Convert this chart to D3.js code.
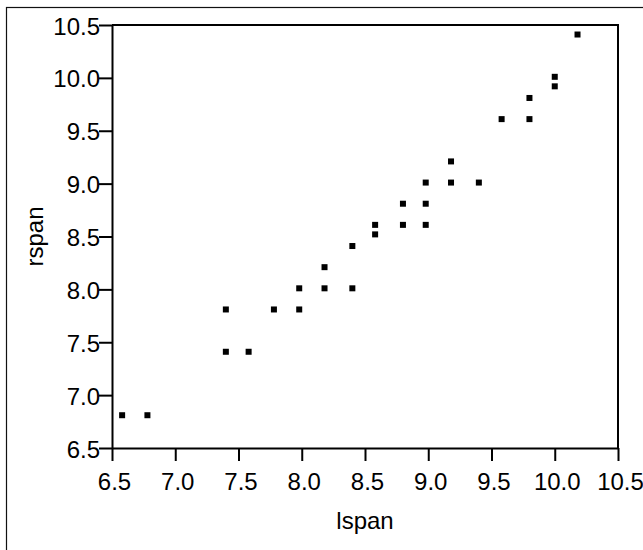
<!DOCTYPE html>
<html>
<head>
<meta charset="utf-8">
<script src="https://cdn.jsdelivr.net/npm/d3@7.9.0/dist/d3.min.js"></script>
<style>
  html, body { margin: 0; padding: 0; background: #fff; overflow: hidden; }
  svg { display: block; font-family: "Liberation Sans", Arial, sans-serif; }
</style>
</head>
<body>
<svg id="chart" width="643" height="550"></svg>
<script>
const lspan = [6.58, 6.78, 7.40, 7.40, 7.58, 7.78, 7.98, 7.98, 8.18, 8.18, 8.40, 8.40, 8.58, 8.58,
  8.80, 8.98, 8.80, 8.98, 8.98, 9.18, 9.40, 9.18, 9.58, 9.80, 9.80, 10.00, 10.00, 10.18];
const rspan = [6.81, 6.81, 7.81, 7.41, 7.41, 7.81, 7.81, 8.01, 8.01, 8.21, 8.01, 8.41, 8.52, 8.61,
  8.61, 8.61, 8.81, 8.81, 9.01, 9.01, 9.01, 9.21, 9.61, 9.61, 9.81, 9.92, 10.01, 10.41];
const xTicks = [6.5, 7.0, 7.5, 8.0, 8.5, 9.0, 9.5, 10.0, 10.5];
const yTicks = [6.5, 7.0, 7.5, 8.0, 8.5, 9.0, 9.5, 10.0, 10.5];

const svg = d3.select("#chart");
const area = { left: 112, right: 618, top: 25, bottom: 448 };

// outer frame, runs off the right and bottom edges
svg.append("rect")
  .attr("x", 6.5).attr("y", 7.5)
  .attr("width", 700).attr("height", 600)
  .attr("fill", "none").attr("stroke", "#111").attr("stroke-width", 1.2);

const x = d3.scaleLinear().domain([6.5, 10.5]).range([area.left, area.right]);
const y = d3.scaleLinear().domain([6.5, 10.5]).range([area.bottom, area.top]);

const xAxis = svg.append("g")
  .attr("transform", `translate(0,${area.bottom})`)
  .call(d3.axisBottom(x).tickValues(xTicks).tickFormat(d3.format(".1f"))
    .tickSize(13).tickSizeOuter(0).tickPadding(5));

const yAxis = svg.append("g")
  .attr("transform", `translate(${area.left},0)`)
  .call(d3.axisLeft(y).tickValues(yTicks).tickFormat(d3.format(".1f"))
    .tickSize(13).tickSizeOuter(0).tickPadding(0));

[xAxis, yAxis].forEach(g => {
  g.select(".domain").attr("stroke", "#000").attr("stroke-width", 2);
  g.selectAll(".tick line").attr("stroke", "#000").attr("stroke-width", 2);
  g.selectAll(".tick text").attr("fill", "#000").attr("font-size", 24)
    .attr("font-family", "Liberation Sans, Arial, sans-serif");
});
xAxis.selectAll(".tick text").attr("dy", null).attr("y", 42).attr("dx", 2);
yAxis.selectAll(".tick text").attr("dy", null).attr("y", 9).attr("x", -12);

// top and right edges of the plot box
svg.append("path")
  .attr("d", `M${area.left},${area.top}H${area.right}V${area.bottom}`)
  .attr("fill", "none").attr("stroke", "#000").attr("stroke-width", 2);

svg.append("g").selectAll("rect")
  .data(lspan.map((d, i) => [d, rspan[i]]))
  .join("rect")
  .attr("x", d => x(d[0]) - 3)
  .attr("y", d => y(d[1]) - 3)
  .attr("width", 6).attr("height", 6)
  .attr("fill", "#000");

svg.append("text")
  .attr("x", (area.left + area.right) / 2)
  .attr("y", 529)
  .attr("text-anchor", "middle")
  .attr("font-size", 24)
  .attr("fill", "#000")
  .text("lspan");

svg.append("text")
  .attr("transform", `translate(43,${(area.top + area.bottom) / 2}) rotate(-90)`)
  .attr("text-anchor", "middle")
  .attr("font-size", 24)
  .attr("fill", "#000")
  .text("rspan");
</script>
</body>
</html>
